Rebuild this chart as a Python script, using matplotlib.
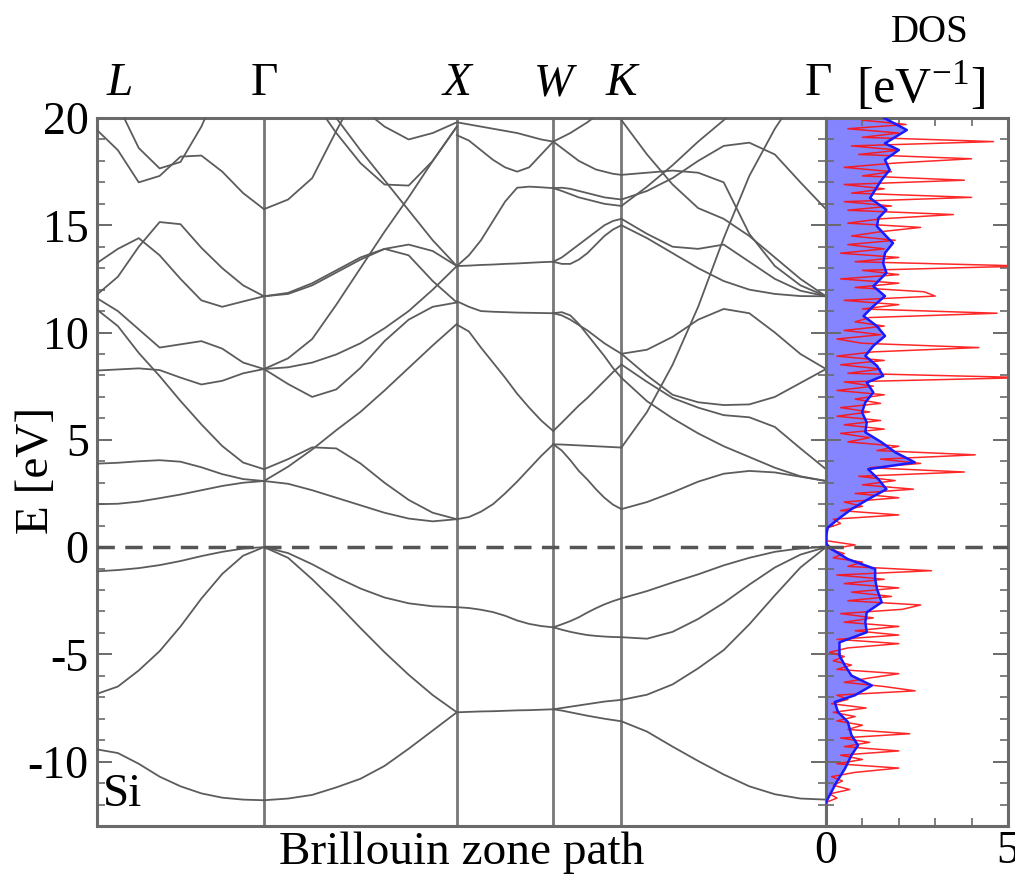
import numpy as np
import matplotlib
matplotlib.use("Agg")
import matplotlib.pyplot as plt
from matplotlib.ticker import MultipleLocator

plt.rcParams['font.family'] = ['Liberation Serif', 'DejaVu Serif']
plt.rcParams['mathtext.fontset'] = 'custom'
plt.rcParams['mathtext.rm'] = 'Liberation Serif'
plt.rcParams['axes.unicode_minus'] = False

nan = np.nan

# high-symmetry points (path length, fcc units)
k_labels = ['L', 'Γ', 'X', 'W', 'K', 'Γ']
k_pos = [0.0, 0.8660, 1.8660, 2.3660, 2.7196, 3.7803]

# band energies (eV) read at 9 equally spaced points along each segment
seg_LG = [
    [-1.13, -1.07, -0.98, -0.84, -0.65, -0.42, -0.22, -0.07, 0.0],
    [-6.84, -6.5, -5.75, -4.85, -3.7, -2.4, -1.25, -0.4, 0.0],
    [-9.43, -9.6, -10.1, -10.7, -11.15, -11.48, -11.68, -11.77, -11.8],
    [2.0, 2.02, 2.12, 2.28, 2.45, 2.65, 2.85, 3.0, 3.08],
    [3.89, 3.93, 4.0, 4.05, 3.98, 3.72, 3.4, 3.17, 3.08],
    [11.07, 10.3, 9.05, 7.97, 6.81, 5.72, 4.71, 3.94, 3.63],
    [11.6, 11.0, 10.15, 9.3, 9.45, 9.6, 9.25, 8.6, 8.3],
    [8.23, 8.28, 8.33, 8.25, 7.9, 7.58, 7.75, 8.1, 8.3],
    [11.77, 12.6, 14.0, 15.15, 15.05, 13.95, 13.0, 12.2, 11.69],
    [13.24, 13.9, 14.4, 13.6, 12.5, 11.5, 11.2, 11.45, 11.69],
    [19.44, 18.5, 17.0, 17.3, 18.2, 18.25, 17.5, 16.5, 15.75],
    [nan, 20.6, 18.6, 17.65, 17.95, 19.6, 21.8, nan, nan],
]
seg_GX = [
    [0.0, -0.28, -0.8, -1.4, -1.93, -2.35, -2.62, -2.76, -2.8],
    [0.0, -0.5, -1.5, -2.6, -3.77, -4.9, -5.95, -6.9, -7.7],
    [-11.8, -11.72, -11.55, -11.2, -10.8, -10.2, -9.4, -8.55, -7.7],
    [3.08, 2.95, 2.65, 2.3, 1.95, 1.6, 1.33, 1.2, 1.3],
    [3.63, 4.1, 4.65, 4.6, 3.9, 3.0, 2.2, 1.6, 1.3],
    [3.08, 3.75, 4.55, 5.45, 6.3, 7.3, 8.35, 9.4, 10.4],
    [8.3, 7.6, 7.0, 7.35, 8.35, 9.6, 10.6, 11.2, 11.4],
    [8.3, 8.8, 9.7, 11.3, 13.0, 14.7, 16.3, 18.0, 19.6],
    [8.3, 8.38, 8.6, 8.98, 9.5, 10.2, 11.0, 12.0, 13.1],
    [11.69, 11.8, 12.2, 12.8, 13.4, 13.9, 13.6, 12.4, 11.4],
    [11.69, 11.85, 12.3, 12.9, 13.5, 13.9, 14.1, 13.8, 13.1],
    [15.75, 16.2, 17.2, 19.4, 21.5, nan, nan, nan, nan],
    [nan, nan, 21.8, 20.0, 18.5, 17.1, 15.7, 14.3, 13.1],
    [nan, nan, 20.9, 19.3, 17.9, 16.9, 16.85, 18.0, 19.6],
    [nan, nan, nan, nan, 20.5, 19.6, 19.0, 19.3, 19.8],
]
seg_XW = [
    [-2.8, -2.84, -2.92, -3.03, -3.2, -3.42, -3.58, -3.68, -3.74],
    [-7.7, -7.68, -7.66, -7.65, -7.63, -7.61, -7.6, -7.58, -7.56],
    [1.3, 1.4, 1.65, 2.0, 2.5, 3.05, 3.65, 4.25, 4.79],
    [10.37, 10.05, 9.3, 8.6, 7.9, 7.15, 6.5, 5.9, 5.41],
    [11.46, 11.2, 11.0, 10.97, 10.95, 10.93, 10.92, 10.91, 10.9],
    [13.1, 13.12, 13.15, 13.17, 13.2, 13.22, 13.25, 13.28, 13.3],
    [13.1, 13.6, 14.3, 15.2, 16.1, 16.75, 16.8, 16.77, 16.73],
    [19.2, 18.95, 18.5, 18.05, 17.7, 17.5, 17.7, 18.3, 18.9],
    [19.8, 19.7, 19.6, 19.5, 19.4, 19.3, 19.15, 19.0, 18.9],
]
seg_WK = [
    [-3.74, -3.6, -3.45, -3.27, -3.05, -2.85, -2.67, -2.52, -2.39],
    [-3.74, -3.85, -3.95, -4.03, -4.1, -4.14, -4.17, -4.19, -4.2],
    [-7.56, -7.5, -7.44, -7.38, -7.32, -7.26, -7.2, -7.16, -7.12],
    [-7.56, -7.62, -7.7, -7.78, -7.86, -7.93, -8.0, -8.06, -8.12],
    [4.79, 4.5, 4.05, 3.55, 3.15, 2.7, 2.3, 1.98, 1.77],
    [4.79, 4.78, 4.76, 4.74, 4.72, 4.7, 4.68, 4.66, 4.64],
    [5.41, 5.8, 6.2, 6.6, 6.95, 7.35, 7.75, 8.15, 8.51],
    [10.9, 10.8, 10.6, 10.35, 10.1, 9.8, 9.5, 9.25, 9.01],
    [10.9, 10.95, 10.8, 10.4, 9.9, 9.4, 8.9, 8.35, 7.89],
    [13.3, 13.5, 13.8, 14.1, 14.4, 14.7, 15.0, 15.2, 15.3],
    [13.3, 13.2, 13.2, 13.4, 13.7, 14.1, 14.5, 14.8, 15.0],
    [16.73, 16.75, 16.7, 16.6, 16.5, 16.4, 16.3, 16.25, 16.2],
    [16.73, 16.6, 16.45, 16.3, 16.2, 16.1, 16.0, 15.95, 15.9],
    [18.9, 18.6, 18.3, 18.0, 17.8, 17.6, 17.5, 17.4, 17.35],
    [18.9, 19.1, 19.3, 19.55, 19.8, 20.1, nan, nan, nan],
]
seg_KG = [
    [-2.39, -2.05, -1.65, -1.27, -0.85, -0.5, -0.22, -0.06, 0.0],
    [-4.2, -4.27, -3.95, -3.35, -2.6, -1.75, -0.95, -0.35, 0.0],
    [-7.12, -6.88, -6.4, -5.65, -4.8, -3.6, -2.25, -0.95, 0.0],
    [-8.12, -8.6, -9.3, -9.97, -10.6, -11.15, -11.52, -11.72, -11.77],
    [1.77, 2.1, 2.55, 3.05, 3.42, 3.55, 3.48, 3.28, 3.08],
    [4.64, 6.3, 8.5, 11.2, 14.4, 17.3, 19.5, 21.3, nan],
    [9.01, 8.0, 7.1, 6.75, 6.62, 6.65, 7.0, 7.65, 8.3],
    [8.51, 7.7, 6.95, 6.5, 6.15, 6.05, 5.6, 4.6, 3.63],
    [7.89, 6.8, 6.0, 5.3, 4.7, 4.2, 3.7, 3.3, 3.08],
    [9.01, 9.2, 9.8, 10.6, 11.1, 10.9, 10.0, 9.0, 8.3],
    [17.35, 17.45, 17.55, 17.45, 17.0, 14.6, 13.1, 12.2, 11.69],
    [16.2, 16.6, 17.2, 18.0, 18.7, 18.85, 18.3, 17.0, 15.75],
    [15.9, 16.8, 17.8, 18.9, 19.9, 21.0, nan, nan, nan],
    [19.9, 18.3, 16.9, 15.8, 15.3, 14.5, 13.5, 12.5, 11.69],
    [15.3, 14.6, 14.0, 13.9, 14.1, 13.3, 12.5, 11.95, 11.69],
    [15.0, 14.4, 13.7, 13.0, 12.4, 12.0, 11.8, 11.7, 11.69],
]
segments = [seg_LG, seg_GX, seg_XW, seg_WK, seg_KG]

# smoothed DOS (blue) and raw DOS (red), states/eV
blue_E = [-11.9, -11.57, -10.95, -10.33, -9.7, -9.24, -8.77, -8.15, -7.69, -7.22,
          -6.91, -6.45, -5.99, -5.52, -5.06, -4.44, -3.97, -3.5, -3.04, -2.57,
          -1.95, -1.49, -1.02, -0.56, -0.09, 0.16, 0.53, 0.91, 1.3, 1.77,
          2.23, 2.7, 3.16, 3.63, 3.95, 4.42, 4.88, 5.35, 5.81, 6.28,
          6.74, 7.21, 7.67, 7.98, 8.45, 8.91, 9.38, 9.84, 10.3, 10.77,
          11.23, 11.7, 12.16, 12.78, 13.24, 13.71, 14.17, 14.48, 14.95, 15.33,
          15.72, 16.27, 16.65, 17.12, 17.58, 18.05, 18.51, 18.82, 19.44, 20.0]
blue_D = [0.0, 0.1, 0.29, 0.52, 0.7, 0.88, 0.7, 0.6, 0.33, 0.24,
          0.79, 1.26, 0.7, 0.52, 0.37, 0.37, 1.12, 1.08, 1.12, 1.53,
          1.4, 1.35, 1.35, 0.6, 0.15, 0.0, 0.0, 0.05, 0.33, 0.7,
          1.16, 1.66, 1.44, 1.16, 2.44, 1.9, 1.53, 1.08, 1.12, 0.99,
          1.08, 1.3, 1.12, 1.57, 1.4, 1.08, 1.3, 1.62, 1.4, 1.03,
          1.3, 1.62, 1.3, 1.66, 1.57, 1.62, 1.84, 1.66, 1.4, 1.44,
          1.66, 1.21, 1.35, 1.53, 1.75, 1.62, 2.0, 1.62, 2.22, 1.6]

red_D = [0.0, 0.3, 0.1, 0.65, 0.2, 0.45, 0.15, 0.8, 2.0, 0.3,
         1.0, 0.4, 2.0, 0.5, 1.2, 0.4, 2.3, 0.6, 1.0, 0.3,
         0.8, 0.2, 1.1, 0.15, 0.6, 0.3, 2.45, 1.6, 0.5, 1.2,
         2.0, 0.3, 0.7, 0.2, 0.5, 0.1, 0.6, 2.0, 0.3, 2.0,
         0.8, 2.0, 0.5, 1.3, 0.4, 2.1, 2.6, 0.6, 1.8, 0.7,
         2.0, 0.5, 1.6, 0.3, 2.9, 0.6, 1.0, 0.2, 0.5, 0.1,
         0.8, 0.0, 0.0, 0.0, 0.05, 0.4, 0.2, 2.0, 0.4, 1.0,
         0.5, 2.0, 0.8, 2.4, 1.0, 1.9, 0.9, 3.8, 1.2, 2.6,
         1.5, 4.1, 1.4, 2.0, 0.6, 1.2, 0.4, 1.6, 0.5, 1.5,
         0.3, 1.2, 0.4, 1.5, 0.8, 1.6, 0.3, 1.3, 0.5, 5.5,
         0.6, 1.5, 0.4, 1.6, 0.3, 1.3, 4.2, 1.0, 0.3, 1.5,
         0.5, 1.6, 0.8, 1.2, 4.7, 1.0, 2.0, 0.5, 3.0, 2.7,
         0.8, 2.0, 0.4, 2.0, 1.0, 5.5, 0.8, 2.0, 0.4, 1.6,
         0.6, 1.9, 0.7, 1.5, 2.6, 0.6, 1.5, 3.5, 0.6, 1.8,
         0.5, 4.0, 0.7, 1.6, 0.5, 3.8, 1.0, 1.8, 0.5, 1.9,
         4.0, 0.9, 2.0, 0.7, 4.6, 1.0, 2.0, 0.6, 2.2, 1.0,
         1.5]
red_E = -11.9 + 0.2 * np.arange(len(red_D))

band_col = '#5c5c5c'
frame_col = '#6a6a6a'

fig = plt.figure(figsize=(10.15, 8.8), dpi=100)
W, H = 1015.0, 880.0
ax = fig.add_axes([97 / W, 1 - 826 / H, (826 - 97) / W, (826 - 118) / H])
axd = fig.add_axes([826 / W, 1 - 826 / H, (1008 - 826) / W, (826 - 118) / H])

tgrid = np.linspace(0.0, 1.0, 9)
for i, seg in enumerate(segments):
    kk = k_pos[i] + tgrid * (k_pos[i + 1] - k_pos[i])
    for band in seg:
        ax.plot(kk, band, color=band_col, lw=1.3, zorder=3)

for kp in k_pos[1:-1]:
    ax.axvline(kp, color='#777777', lw=2.0, zorder=2)
ax.axhline(0, color='#555555', lw=2.5, ls=(0, (5, 3)), zorder=4)

ax.set_xlim(k_pos[0], k_pos[-1])
ax.set_ylim(-13, 20)
ax.set_xticks([])
ax.yaxis.set_major_locator(MultipleLocator(5))
ax.yaxis.set_minor_locator(MultipleLocator(1))
ax.tick_params(axis='y', which='both', direction='in', left=True, right=True,
               color=frame_col, labelsize=33, pad=6)
ax.tick_params(axis='y', which='major', length=11, width=1.4)
ax.tick_params(axis='y', which='minor', length=6, width=1.2)
ax.set_xlabel('Brillouin zone path', fontsize=34, labelpad=4)
fig.text(37 / W, 1 - 470 / H, 'E [eV]', rotation=90, ha='center', va='center',
         fontsize=34)
for s in ax.spines.values():
    s.set_color(frame_col)
    s.set_linewidth(2.2)

for lab, kp, dx in zip(k_labels, k_pos, [0.12, 0, 0, 0, 0, -0.04]):
    style = 'normal' if lab == 'Γ' else 'italic'
    ax.text(kp + dx, 20.6, lab, ha='center', va='bottom', fontsize=34,
            style=style)
ax.text(0.03, -12.55, 'Si', fontsize=34, va='bottom', ha='left')

# DOS panel
axd.fill_betweenx(blue_E, 0, blue_D, color='#8585ff', lw=0, zorder=1)
axd.plot(red_D, red_E, color='#ff1010', lw=1.1, alpha=0.9, zorder=2)
axd.plot(blue_D, blue_E, color='#1a1aff', lw=1.8, zorder=3)
axd.axhline(0, color='#555555', lw=2.5, ls=(0, (5, 3)), zorder=4)
axd.set_xlim(0, 5)
axd.set_ylim(-13, 20)
axd.set_xticks([0, 5])
axd.xaxis.set_minor_locator(MultipleLocator(1))
axd.yaxis.set_minor_locator(MultipleLocator(1))
axd.set_yticks(np.arange(-10, 21, 5))
axd.set_yticklabels([])
axd.tick_params(axis='both', which='both', direction='in', top=True, bottom=True,
                left=True, right=True, color=frame_col, labelsize=33)
axd.tick_params(which='major', length=11, width=1.4)
axd.tick_params(which='minor', length=6, width=1.2)
for s in axd.spines.values():
    s.set_color(frame_col)
    s.set_linewidth(2.2)
axd.text(0.57, 1.095, 'DOS', transform=axd.transAxes, ha='center', va='bottom',
         fontsize=28)
axd.text(0.52, 1.005, '[eV$^{-1}$]', transform=axd.transAxes, ha='center',
         va='bottom', fontsize=36)

fig.savefig('out.png', dpi=100)
